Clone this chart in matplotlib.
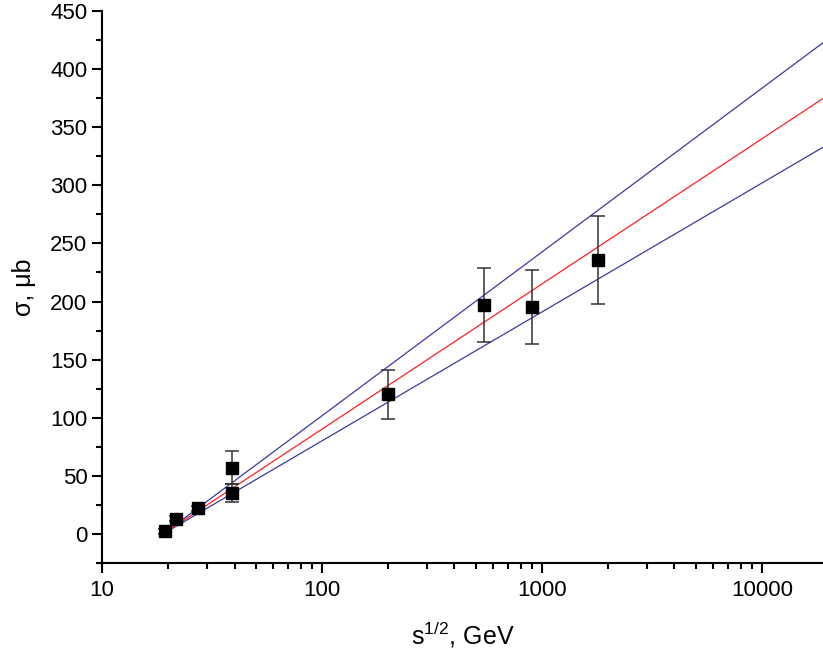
import matplotlib
matplotlib.use("Agg")
import matplotlib.pyplot as plt
import numpy as np
from matplotlib.ticker import MultipleLocator, LogLocator, NullFormatter

plt.rcParams['font.family'] = ['Liberation Sans', 'DejaVu Sans']
plt.rcParams['mathtext.fontset'] = 'custom'
plt.rcParams['mathtext.rm'] = 'Liberation Sans'

# measured points
sqrt_s = [19.4, 21.7, 27.4, 38.8, 38.8, 200, 546, 900, 1800]
sigma = [2, 13, 22, 57, 35, 120, 197, 195, 236]
sigma_err = [2, 2, 2, 14, 8, 21, 32, 32, 38]

# fit lines: sigma = k * log10(sqrt_s / s0)
s0 = 19.0
k_upper = 141
k_central = 125
k_lower = 111
x_fit = [19.0, 19000.0]

fig = plt.figure(figsize=(8.23, 6.56), dpi=100)
ax = fig.add_axes([0.124, 0.142, 0.876, 0.841])

xf = np.array(x_fit)
ax.plot(xf, k_upper * np.log10(xf / s0), color='#3a3aa0', lw=0.9)
ax.plot(xf, k_lower * np.log10(xf / s0), color='#3a3aa0', lw=0.9)
ax.plot(xf, k_central * np.log10(xf / s0), color='#ff2020', lw=0.9)

ax.errorbar(sqrt_s, sigma, yerr=sigma_err, fmt='s', color='black', ms=8.5,
            ecolor='#333333', elinewidth=1.1, capsize=5, capthick=1.1, zorder=5)

ax.set_xscale('log')
ax.set_xlim(10, 18930)
ax.set_ylim(-25, 450)

ax.spines['top'].set_visible(False)
ax.spines['right'].set_visible(False)
ax.spines['left'].set_linewidth(1.5)
ax.spines['bottom'].set_linewidth(1.5)

ax.yaxis.set_major_locator(MultipleLocator(50))
ax.yaxis.set_minor_locator(MultipleLocator(25))
ax.xaxis.set_minor_locator(LogLocator(base=10, subs=np.arange(2, 10)))
ax.xaxis.set_minor_formatter(NullFormatter())
ax.set_xticks([10, 100, 1000, 10000], ['10', '100', '1000', '10000'])

ax.tick_params(which='major', direction='out', length=7, width=1.5, labelsize=16)
ax.tick_params(which='minor', direction='out', length=4, width=1.5)
ax.tick_params(axis='x', pad=5)

ax.set_xlabel('s$^{\\mathrm{1/2}}$, GeV', fontsize=18, labelpad=14)
ax.set_ylabel('\u03c3, \u03bcb', fontsize=18, labelpad=10)

fig.savefig('out.png', dpi=100)
